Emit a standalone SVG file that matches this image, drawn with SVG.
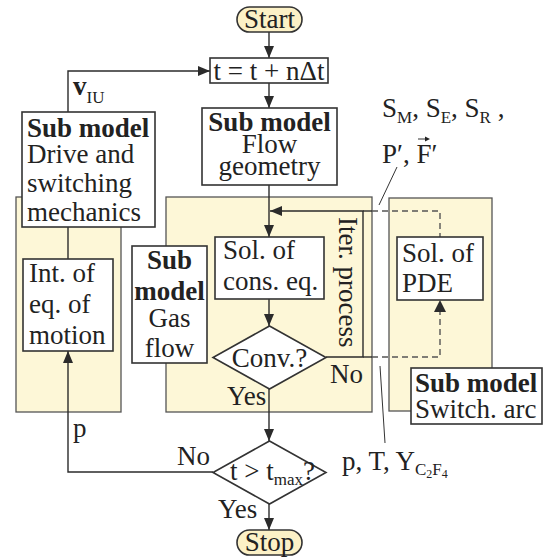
<svg xmlns="http://www.w3.org/2000/svg" width="545" height="560" viewBox="0 0 545 560">
<defs>
<marker id="ah" markerUnits="userSpaceOnUse" markerWidth="12" markerHeight="10" refX="12" refY="5" orient="auto">
<path d="M0,0 L12,5 L0,10 z" fill="#2b2b2b"/>
</marker>
<style>
text{font-family:"Liberation Serif","Times New Roman",serif;font-size:27px;fill:#222}
.b{font-weight:bold}
.c{text-anchor:middle}
.panel{fill:#fdf7d7;stroke:#555;stroke-width:1.3}
.box{fill:#fff;stroke:#333;stroke-width:1.6}
.pill{fill:#fcf1c6;stroke:#333;stroke-width:1.6}
.ln{fill:none;stroke:#2b2b2b;stroke-width:1.4}
.arr{fill:none;stroke:#2b2b2b;stroke-width:1.4;marker-end:url(#ah)}
.dash{fill:none;stroke:#555;stroke-width:1.4;stroke-dasharray:6 4}
.thin{fill:none;stroke:#333;stroke-width:1}
.sub{font-size:17px}
.sub2{font-size:12px}
</style>
</defs>

<g id="panels">
<rect class="panel" x="16" y="197" width="105" height="215"/>
<rect class="panel" x="166" y="197" width="206" height="215"/>
<rect class="panel" x="389" y="198" width="103" height="213"/>
</g>

<g id="connectors">
<line class="arr" x1="269" y1="32" x2="269" y2="58"/>
<line class="arr" x1="269" y1="83" x2="269" y2="108"/>
<line class="arr" x1="269" y1="185" x2="269" y2="237"/>
<line class="arr" x1="269" y1="299" x2="269" y2="326"/>
<line class="arr" x1="269" y1="389" x2="269" y2="441"/>
<line class="arr" x1="269" y1="504" x2="269" y2="530"/>
<polyline class="arr" points="68,112 68,71 210,71"/>
<line class="ln" x1="68" y1="227" x2="68" y2="259"/>
<polyline class="arr" points="213,472 68,472 68,351"/>
<polyline class="arr" points="326,357 363,357 363,211 270,211"/>
<line class="ln" x1="363" y1="211" x2="372" y2="211"/>
<line class="ln" x1="363" y1="357" x2="372" y2="357"/>
<polyline class="dash" points="372,211 440,211 440,237"/>
<polyline class="dash" points="372,357 440,357 440,312"/>
<path d="M434,312 L440,300 L446,312 z" fill="#2b2b2b"/>
<line class="thin" x1="397" y1="167" x2="379" y2="205"/>
<line class="thin" x1="380" y1="366" x2="385" y2="443"/>
</g>

<g id="start">
<rect class="pill" x="237" y="7" width="65" height="25" rx="12.5"/>
<text class="c" x="269.5" y="28">Start</text>
</g>

<g id="update">
<rect class="box" x="210" y="58" width="118" height="25"/>
<text class="c" x="269" y="80">t = t + nΔt</text>
</g>

<g id="flowgeom">
<rect class="box" x="202" y="108" width="135" height="77"/>
<text class="c b" x="269.5" y="131">Sub model</text>
<text class="c" x="269.5" y="153">Flow</text>
<text class="c" x="269.5" y="175">geometry</text>
</g>

<g id="drive">
<rect class="box" x="22" y="112" width="133" height="115"/>
<text class="b" x="27" y="137">Sub model</text>
<text x="27" y="163">Drive and</text>
<text x="27" y="192">switching</text>
<text x="27" y="221">mechanics</text>
</g>

<g id="motion">
<rect class="box" x="23" y="259" width="90" height="92"/>
<text x="29" y="282">Int. of</text>
<text x="29" y="313">eq. of</text>
<text x="29" y="344">motion</text>
</g>

<g id="gasflow">
<rect class="box" x="132" y="246" width="75" height="117"/>
<text class="c b" x="169.5" y="269">Sub</text>
<text class="c b" x="169.5" y="300">model</text>
<text class="c" x="169.5" y="327">Gas</text>
<text class="c" x="169.5" y="357">flow</text>
</g>

<g id="solcons">
<rect class="box" x="215" y="237" width="109" height="62"/>
<text x="223" y="259">Sol. of</text>
<text x="223" y="290">cons. eq.</text>
</g>

<g id="conv">
<polygon class="box" points="269.5,326 326,357.5 269.5,389 213,357.5"/>
<text class="c" x="269.5" y="367">Conv.?</text>
</g>

<g id="iter">
<text transform="rotate(90 339 217)" x="339" y="217">Iter. process</text>
</g>

<g id="solpde">
<rect class="box" x="397" y="237" width="86" height="63"/>
<text x="402" y="262">Sol. of</text>
<text x="402" y="292">PDE</text>
</g>

<g id="switcharc">
<rect class="box" x="411" y="368" width="131" height="56"/>
<text class="b" x="415" y="392">Sub model</text>
<text x="415" y="418">Switch. arc</text>
</g>

<g id="tmax">
<polygon class="box" points="269.5,441 326,472.5 269.5,504 213,472.5"/>
<text x="230" y="480">t &gt; t<tspan class="sub" dy="5">max</tspan><tspan dy="-5">?</tspan></text>
</g>

<g id="stop">
<rect class="pill" x="237" y="530" width="65" height="25" rx="12.5"/>
<text class="c" x="269.5" y="551">Stop</text>
</g>

<g id="labels">
<text x="73" y="95"><tspan class="b">v</tspan><tspan class="sub" dy="8">IU</tspan></text>
<text x="73" y="437">p</text>
<text x="177" y="465">No</text>
<text x="218" y="518">Yes</text>
<text x="227" y="405">Yes</text>
<text x="330" y="383">No</text>
<text x="382" y="117">S<tspan class="sub" dy="6">M</tspan><tspan dy="-6">, S</tspan><tspan class="sub" dy="6">E</tspan><tspan dy="-6">, S</tspan><tspan class="sub" dy="6">R</tspan><tspan dy="-6"> ,</tspan></text>
<text x="382" y="163">P′, F′</text>
<line class="thin" x1="418" y1="139" x2="427" y2="139"/>
<path d="M425,136.5 L430,139 L425,141.5 z" fill="#222"/>
<text x="342" y="470">p, T, Y<tspan class="sub" dy="5">C</tspan><tspan class="sub2" dy="3">2</tspan><tspan class="sub" dy="-3">F</tspan><tspan class="sub2" dy="3">4</tspan></text>
</g>
</svg>
